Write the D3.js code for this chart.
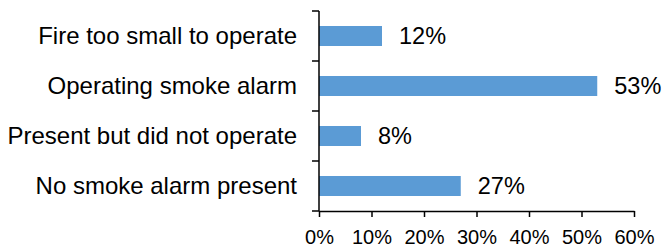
<!DOCTYPE html>
<html>
<head>
<meta charset="utf-8">
<script src="https://cdn.jsdelivr.net/npm/d3@7"></script>
<style>
  body { margin: 0; background: #fff; }
  svg { display: block; font-family: "Liberation Sans", Arial, sans-serif; }
</style>
</head>
<body>
<div id="chart"></div>
<script>
const categories = ["Fire too small to operate", "Operating smoke alarm", "Present but did not operate", "No smoke alarm present"];
const values = [12, 53, 8, 27];
const xTicks = [0, 10, 20, 30, 40, 50, 60];

const width = 662, height = 247;
const margin = {top: 11, right: 28, bottom: 36, left: 319};

const svg = d3.select("#chart")
  .append("svg")
    .attr("width", width)
    .attr("height", height);

const x = d3.scaleLinear()
  .domain([0, 60])
  .range([margin.left, width - margin.right]);

const y = d3.scaleBand()
  .domain(categories)
  .range([margin.top, height - margin.bottom])
  .paddingInner(0.6)
  .paddingOuter(0.3);

// bars
svg.selectAll("rect.bar")
  .data(values)
  .enter()
  .append("rect")
    .attr("class", "bar")
    .attr("x", x(0))
    .attr("y", (d, i) => y(categories[i]))
    .attr("width", d => x(d) - x(0))
    .attr("height", y.bandwidth())
    .attr("fill", "#5B9BD5");

// value labels
svg.selectAll("text.val")
  .data(values)
  .enter()
  .append("text")
    .attr("class", "val")
    .attr("x", d => x(d) + 17)
    .attr("y", (d, i) => y(categories[i]) + y.bandwidth() / 2)
    .attr("dy", "0.35em")
    .attr("font-size", "23.5px")
    .attr("fill", "#000")
    .text(d => d + "%");

// y axis: labels from band scale, ticks at band boundaries
const yAxis = svg.append("g")
  .attr("transform", `translate(${x(0)},0)`)
  .call(d3.axisLeft(y).tickSize(0).tickPadding(22).tickSizeOuter(0));
yAxis.select(".domain").remove();
yAxis.selectAll("text")
  .attr("font-size", "24px")
  .attr("font-family", "Liberation Sans, Arial, sans-serif")
  .attr("fill", "#000");

const yr = y.range();
const bounds = d3.range(categories.length + 1).map(i => yr[0] + i * y.step());
svg.append("line")
  .attr("x1", x(0)).attr("x2", x(0))
  .attr("y1", yr[0]).attr("y2", yr[1])
  .attr("stroke", "#000").attr("stroke-width", 1.5);
svg.selectAll("line.ytick")
  .data(bounds)
  .enter()
  .append("line")
    .attr("class", "ytick")
    .attr("x1", x(0) - 7).attr("x2", x(0))
    .attr("y1", d => d).attr("y2", d => d)
    .attr("stroke", "#000").attr("stroke-width", 1.5);

// x axis
const xAxis = svg.append("g")
  .attr("transform", `translate(0,${yr[1]})`)
  .call(d3.axisBottom(x).tickValues(xTicks).tickFormat(d => d + "%").tickSize(6).tickSizeOuter(0).tickPadding(13));
xAxis.select(".domain").attr("stroke", "#000").attr("stroke-width", 1.5);
xAxis.selectAll("line").attr("stroke", "#000").attr("stroke-width", 1.5);
xAxis.selectAll("text")
  .attr("font-size", "20px")
  .attr("font-family", "Liberation Sans, Arial, sans-serif")
  .attr("fill", "#000");
</script>
</body>
</html>
